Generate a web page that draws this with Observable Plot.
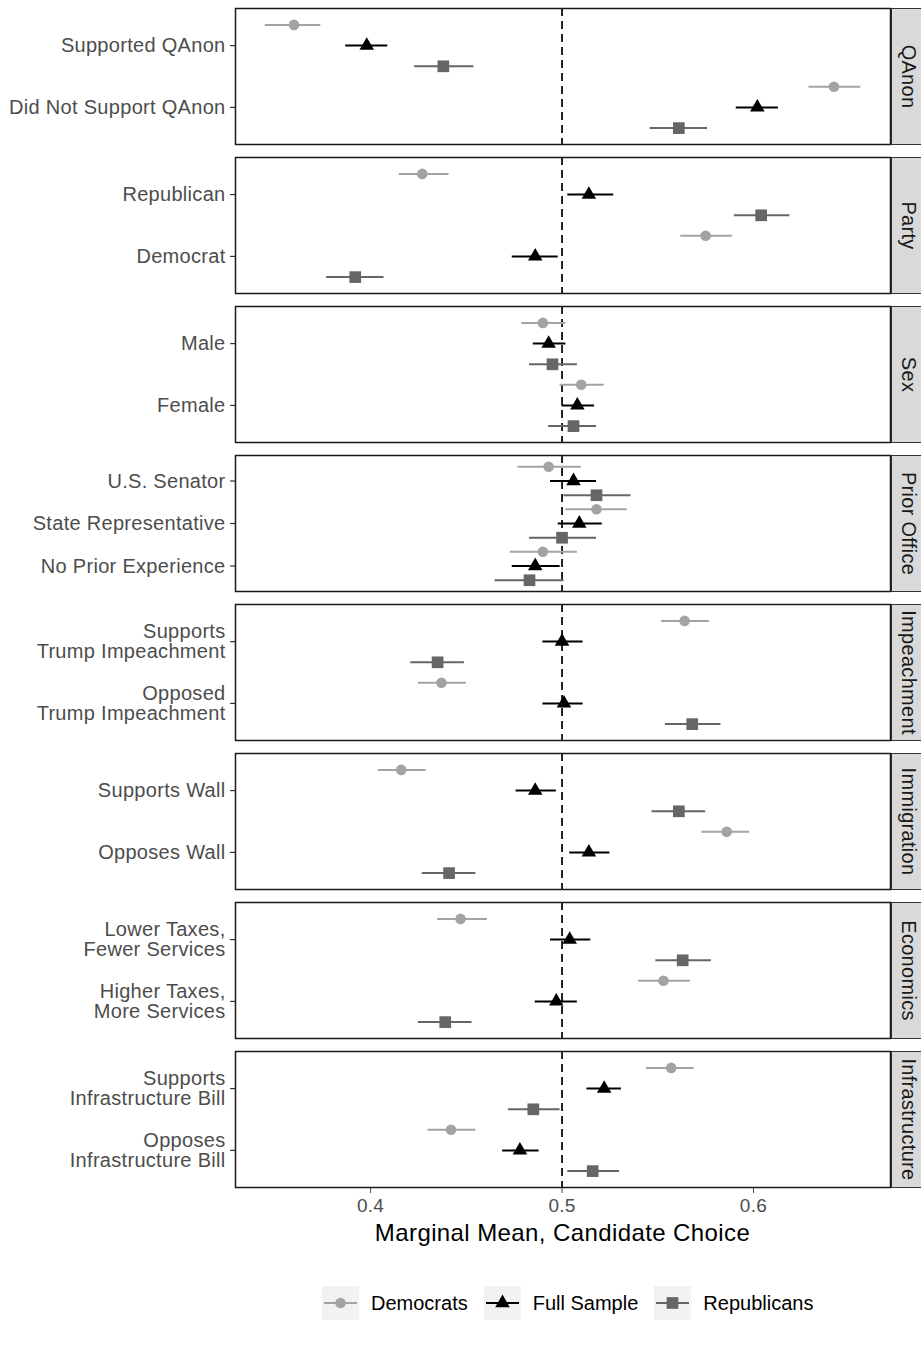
<!DOCTYPE html>
<html>
<head>
<meta charset="utf-8">
<script src="https://cdn.jsdelivr.net/npm/d3@7"></script>
<script src="https://cdn.jsdelivr.net/npm/@observablehq/plot@0.6"></script>
<style>
  body { margin: 0; background: #fff; font-family: "Liberation Sans", Arial, sans-serif; }
  #wrap { position: relative; width: 921px; height: 1348px; overflow: hidden; }
  #chart { position: absolute; left: 0; top: 0; }
  #title { position: absolute; left: 235px; width: 655px; top: 1219px; text-align: center; font-size: 24px; letter-spacing: 0.4px; color: #000; }
  #legend { position: absolute; left: 322px; top: 1286px; display: flex; align-items: center; font-size: 20px; color: #000; }
  .item { display: flex; align-items: center; margin-right: 16px; }
  .item svg { margin-right: 12px; }
  #chart svg text { letter-spacing: 0.3px; }
</style>
</head>
<body>
<div id="wrap">
  <div id="chart"></div>
  <div id="title">Marginal Mean, Candidate Choice</div>
  <div id="legend"></div>
</div>
<script>
// ---- data ----
const facets = ["QAnon", "Party", "Sex", "Prior Office", "Impeachment", "Immigration", "Economics", "Infrastructure"];
const levels = [
  ["Supported QAnon", "Did Not Support QAnon"],
  ["Republican", "Democrat"],
  ["Male", "Female"],
  ["U.S. Senator", "State Representative", "No Prior Experience"],
  ["Supports\nTrump Impeachment", "Opposed\nTrump Impeachment"],
  ["Supports Wall", "Opposes Wall"],
  ["Lower Taxes,\nFewer Services", "Higher Taxes,\nMore Services"],
  ["Supports\nInfrastructure Bill", "Opposes\nInfrastructure Bill"]
];
const groups = ["Democrats", "Full Sample", "Republicans"];
const xTicks = [0.4, 0.5, 0.6];

// estimates in level order (flattened across facets)
const demEst = [0.360, 0.642, 0.427, 0.575, 0.490, 0.510, 0.493, 0.518, 0.490, 0.564, 0.437, 0.416, 0.586, 0.447, 0.553, 0.557, 0.442];
const demLo  = [0.345, 0.629, 0.415, 0.562, 0.479, 0.499, 0.477, 0.502, 0.473, 0.552, 0.425, 0.404, 0.573, 0.435, 0.540, 0.544, 0.430];
const demHi  = [0.374, 0.656, 0.441, 0.589, 0.502, 0.522, 0.510, 0.534, 0.508, 0.577, 0.450, 0.429, 0.598, 0.461, 0.567, 0.569, 0.455];

const fullEst = [0.398, 0.602, 0.514, 0.486, 0.493, 0.508, 0.506, 0.509, 0.486, 0.500, 0.501, 0.486, 0.514, 0.504, 0.497, 0.522, 0.478];
const fullLo  = [0.387, 0.591, 0.503, 0.474, 0.485, 0.500, 0.494, 0.498, 0.474, 0.490, 0.490, 0.476, 0.504, 0.494, 0.486, 0.513, 0.469];
const fullHi  = [0.409, 0.613, 0.527, 0.498, 0.502, 0.517, 0.518, 0.521, 0.499, 0.511, 0.511, 0.497, 0.525, 0.515, 0.508, 0.531, 0.488];

const repEst = [0.438, 0.561, 0.604, 0.392, 0.495, 0.506, 0.518, 0.500, 0.483, 0.435, 0.568, 0.561, 0.441, 0.563, 0.439, 0.485, 0.516];
const repLo  = [0.423, 0.546, 0.590, 0.377, 0.483, 0.493, 0.501, 0.483, 0.465, 0.421, 0.554, 0.547, 0.427, 0.549, 0.425, 0.472, 0.503];
const repHi  = [0.454, 0.576, 0.619, 0.407, 0.508, 0.518, 0.536, 0.518, 0.501, 0.449, 0.583, 0.575, 0.455, 0.578, 0.453, 0.499, 0.530];

// ---- build table ----
const series = {
  "Democrats":   {est: demEst,  lo: demLo,  hi: demHi},
  "Full Sample": {est: fullEst, lo: fullLo, hi: fullHi},
  "Republicans": {est: repEst,  lo: repLo,  hi: repHi}
};
const colors = ["#a3a3a3", "#000000", "#666666"];
const dodge = 0.335;   // dodge offset in category units
const expand = 0.6;    // discrete-axis expansion in category units

const rows = [];
const tickRows = [];
let k = 0;
facets.forEach((f, fi) => {
  const n = levels[fi].length;
  const norm = p => (p - (1 - expand)) / (n - 1 + 2 * expand);
  levels[fi].forEach((lab, li) => {
    tickRows.push({facet: f, level: lab, y: norm(li + 1)});
    groups.forEach((g, gi) => {
      rows.push({
        facet: f, level: lab, group: g,
        est: series[g].est[k], lo: series[g].lo[k], hi: series[g].hi[k],
        y: norm(li + 1 + (gi - 1) * dodge)
      });
    });
    k++;
  });
});

const allX = rows.flatMap(d => [d.lo, d.hi]);
const xmin = d3.min(allX), xmax = d3.max(allX);
const pad = (xmax - xmin) * 0.05;
const xDomain = [xmin - pad, xmax + pad];
const tickLen = (xDomain[1] - xDomain[0]) * 0.0075;

const W = 921, H = 1220, ML = 235, MR = 31, MT = 7, MB = 32;
const frameW = W - ML - MR;

const chart = Plot.plot({
  width: W, height: H,
  marginLeft: ML, marginRight: MR, marginTop: MT, marginBottom: MB,
  style: {fontFamily: "'Liberation Sans', Arial, sans-serif", background: "white", overflow: "visible"},
  x: {domain: xDomain},
  y: {domain: [0, 1], reverse: true, axis: null},
  fy: {domain: facets, paddingInner: 0.089, paddingOuter: 0, axis: null},
  color: {domain: groups, range: colors},
  marks: [
    // strip background
    Plot.frame({fill: "#d9d9d9", stroke: "#333333", strokeWidth: 1, insetLeft: frameW + 1, insetRight: -(MR + 2)}),
    Plot.text(facets, {fy: d => d, text: d => d, frameAnchor: "right", textAnchor: "middle", dx: 18, rotate: 90, fontSize: 20, fill: "#1a1a1a"}),
    // reference line
    Plot.ruleX([0.5], {stroke: "black", strokeWidth: 1.7, strokeDasharray: "8,5"}),
    // error bars
    Plot.ruleY(rows, {fy: "facet", y: "y", x1: "lo", x2: "hi", stroke: "group", strokeWidth: 2}),
    // points
    Plot.dot(rows.filter(d => d.group === groups[0]), {fy: "facet", y: "y", x: "est", fill: "group", r: 5.3, symbol: "circle"}),
    Plot.dot(rows.filter(d => d.group === groups[1]), {fy: "facet", y: "y", x: "est", fill: "group", r: 5.4, symbol: "triangle"}),
    Plot.dot(rows.filter(d => d.group === groups[2]), {fy: "facet", y: "y", x: "est", fill: "group", r: 6.6, symbol: "square"}),
    // y axis ticks and labels per panel
    Plot.ruleY(tickRows, {fy: "facet", y: "y", x1: () => xDomain[0] - tickLen, x2: () => xDomain[0], stroke: "#333333", strokeWidth: 1.2}),
    Plot.text(tickRows, {fy: "facet", y: "y", text: "level", frameAnchor: "left", textAnchor: "end", dx: -10, fontSize: 20, fill: "#4d4d4d", lineHeight: 1.02}),
    // x axis
    Plot.axisX({ticks: xTicks, tickFormat: d => String(d), tickSize: 6, tickPadding: 5, fontSize: 19, color: "#4d4d4d", label: null}),
    // panel border
    Plot.frame({stroke: "#1a1a1a", strokeWidth: 1.5})
  ]
});
document.getElementById("chart").appendChild(chart);

// ---- legend ----
const symbolPaths = [d3.symbol(d3.symbolCircle, Math.PI * 5.3 * 5.3)(), d3.symbol(d3.symbolTriangle, Math.PI * 5.4 * 5.4)(), d3.symbol(d3.symbolSquare, Math.PI * 6.6 * 6.6)()];
const legend = document.getElementById("legend");
groups.forEach((g, i) => {
  const item = document.createElement("div");
  item.className = "item";
  item.innerHTML = `<svg width="37" height="34"><rect width="37" height="34" fill="#f2f2f2"/>` +
    `<line x1="2" x2="35" y1="17" y2="17" stroke="${colors[i]}" stroke-width="2"/>` +
    `<path transform="translate(18.5,17)" d="${symbolPaths[i]}" fill="${colors[i]}"/></svg><span>${g}</span>`;
  legend.appendChild(item);
});
</script>
</body>
</html>
